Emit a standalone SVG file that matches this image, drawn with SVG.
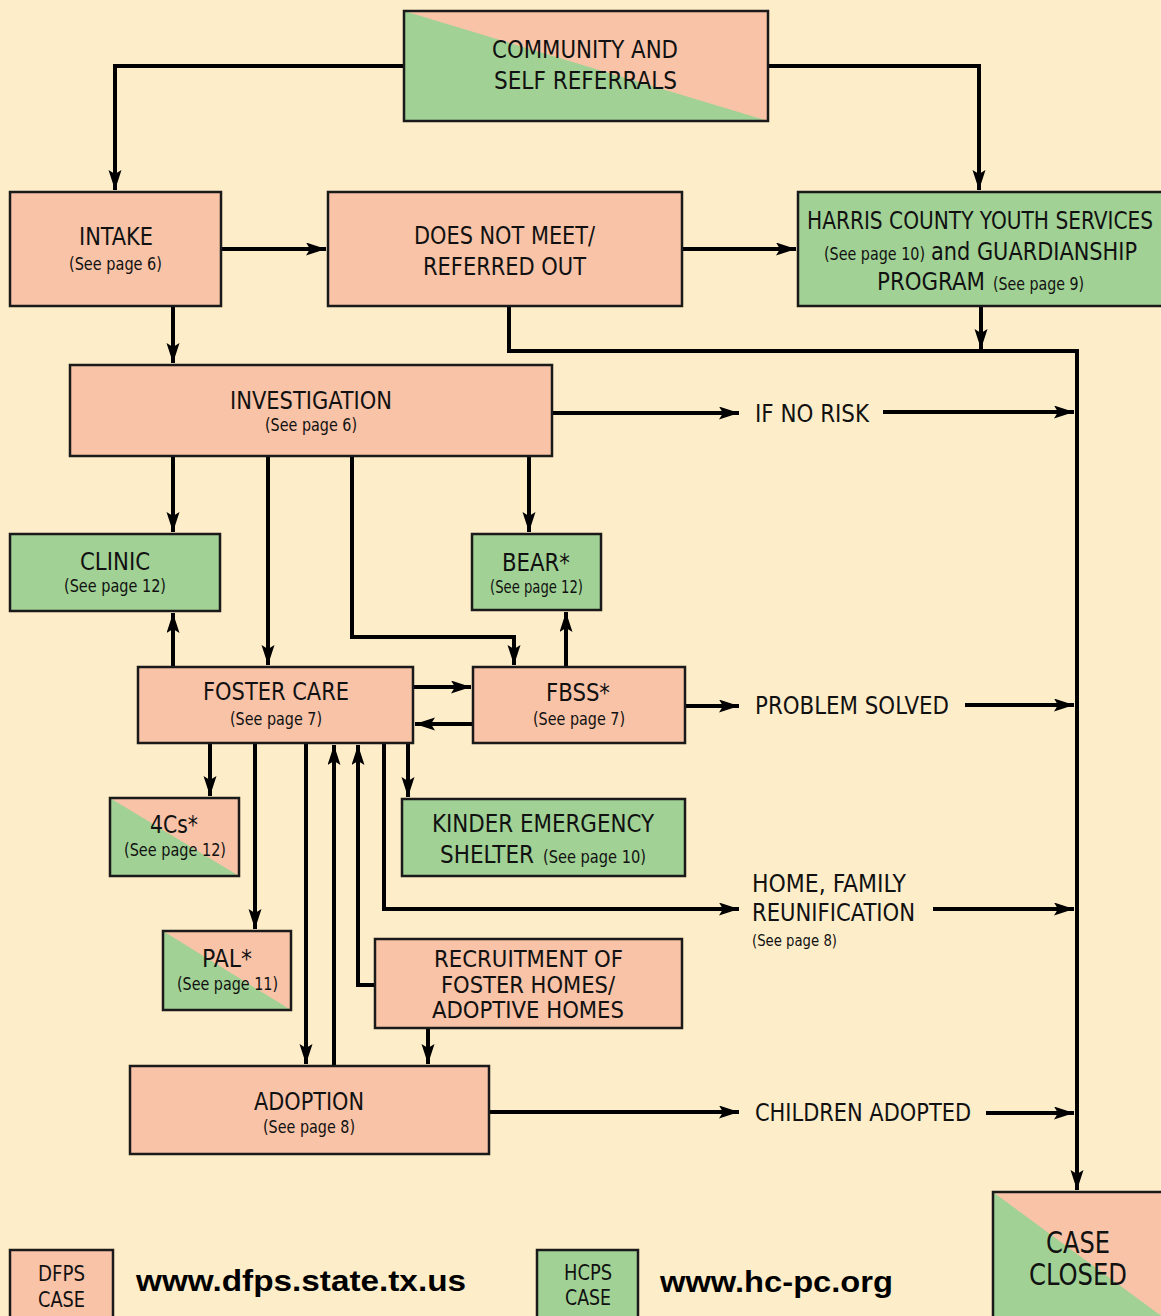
<svg xmlns="http://www.w3.org/2000/svg" width="1161" height="1316" viewBox="0 0 1161 1316">
<defs>
<marker id="ah" markerUnits="userSpaceOnUse" markerWidth="22" markerHeight="14" refX="20" refY="6.5" orient="auto">
<path d="M0,0 L20,6.5 L0,13 L4,6.5 z" fill="#000"/>
</marker>
<style>
.bg{fill:#FEEDC9}
.s{fill:#F8C3A7}
.g{fill:#A1D195}
.b{fill:none;stroke:#1a1a1a;stroke-width:2.5}
.nb{stroke:#1a1a1a;stroke-width:2.5}
text{font-family:"DejaVu Sans Condensed","Liberation Sans",sans-serif;fill:#111;text-anchor:start}
.t{font-size:24px}
.sm{font-size:17px}
.url{font-family:"Liberation Sans","Arial",sans-serif;font-weight:bold;font-size:29px;fill:#000}
.c path,.c line,.c polyline{fill:none;stroke:#000;stroke-width:4;marker-end:url(#ah)}
</style>
</defs>
<rect class="bg" x="0" y="0" width="1161" height="1316"/>

<g id="connectors" class="c">
<polyline points="404,66 115,66 115,190"/>
<polyline points="768,66 979,66 979,190"/>
<line x1="221" y1="249" x2="326" y2="249"/>
<line x1="682" y1="249" x2="796" y2="249"/>
<line x1="173" y1="306" x2="173" y2="363"/>
<line x1="981" y1="306" x2="981" y2="349"/>
<polyline points="509,306 509,351 1077,351 1077,1190"/>
<line x1="552" y1="413" x2="739" y2="413"/>
<line x1="883" y1="412" x2="1074" y2="412"/>
<line x1="173" y1="456" x2="173" y2="532"/>
<line x1="268" y1="456" x2="268" y2="665"/>
<polyline points="352,456 352,637 514,637 514,665"/>
<line x1="529" y1="456" x2="529" y2="532"/>
<line x1="173" y1="667" x2="173" y2="613"/>
<line x1="566" y1="667" x2="566" y2="612"/>
<line x1="413" y1="687" x2="471" y2="687"/>
<line x1="473" y1="724" x2="415" y2="724"/>
<line x1="685" y1="706" x2="739" y2="706"/>
<line x1="965" y1="705" x2="1074" y2="705"/>
<line x1="210" y1="743" x2="210" y2="796"/>
<line x1="255" y1="743" x2="255" y2="929"/>
<line x1="306" y1="743" x2="306" y2="1064"/>
<line x1="334" y1="1066" x2="334" y2="745"/>
<polyline points="375,985 358,985 358,745"/>
<polyline points="384,743 384,909 739,909"/>
<line x1="933" y1="909" x2="1074" y2="909"/>
<line x1="408" y1="743" x2="408" y2="797"/>
<line x1="428" y1="1028" x2="428" y2="1064"/>
<line x1="489" y1="1112" x2="739" y2="1112"/>
<line x1="986" y1="1113" x2="1074" y2="1113"/>
</g>

<g id="community">
<rect class="s" x="404" y="11" width="364" height="110"/>
<polygon class="g" points="404,11 404,121 768,121"/>
<rect class="b" x="404" y="11" width="364" height="110"/>
<text class="t" x="492" y="58" textLength="186" lengthAdjust="spacingAndGlyphs">COMMUNITY AND</text>
<text class="t" x="494" y="89" textLength="183" lengthAdjust="spacingAndGlyphs">SELF REFERRALS</text>
</g>

<g id="intake">
<rect class="s nb" x="10" y="192" width="211" height="114"/>
<text class="t" x="79" y="245" textLength="74" lengthAdjust="spacingAndGlyphs">INTAKE</text>
<text class="sm" x="69" y="270" textLength="93" lengthAdjust="spacingAndGlyphs">(See page 6)</text>
</g>

<g id="doesnotmeet">
<rect class="s nb" x="328" y="192" width="354" height="114"/>
<text class="t" x="414" y="244" textLength="181" lengthAdjust="spacingAndGlyphs">DOES NOT MEET/</text>
<text class="t" x="423" y="275" textLength="163" lengthAdjust="spacingAndGlyphs">REFERRED OUT</text>
</g>

<g id="harris">
<rect class="g nb" x="798" y="192" width="372" height="114"/>
<text class="t" x="807" y="229" textLength="346" lengthAdjust="spacingAndGlyphs">HARRIS COUNTY YOUTH SERVICES</text>
<text class="sm" x="824" y="260" textLength="101" lengthAdjust="spacingAndGlyphs">(See page 10)</text>
<text class="t" x="931" y="260" textLength="206" lengthAdjust="spacingAndGlyphs">and GUARDIANSHIP</text>
<text class="t" x="877" y="290" textLength="108" lengthAdjust="spacingAndGlyphs">PROGRAM</text>
<text class="sm" x="993" y="290" textLength="91" lengthAdjust="spacingAndGlyphs">(See page 9)</text>
</g>

<g id="investigation">
<rect class="s nb" x="70" y="365" width="482" height="91"/>
<text class="t" x="230" y="409" textLength="162" lengthAdjust="spacingAndGlyphs">INVESTIGATION</text>
<text class="sm" x="265" y="431" textLength="92" lengthAdjust="spacingAndGlyphs">(See page 6)</text>
</g>

<g id="ifnorisk">
<text class="t" x="755" y="422" textLength="114" lengthAdjust="spacingAndGlyphs">IF NO RISK</text>
</g>

<g id="clinic">
<rect class="g nb" x="10" y="534" width="210" height="77"/>
<text class="t" x="80" y="570" textLength="70" lengthAdjust="spacingAndGlyphs">CLINIC</text>
<text class="sm" x="64" y="592" textLength="102" lengthAdjust="spacingAndGlyphs">(See page 12)</text>
</g>

<g id="bear">
<rect class="g nb" x="472" y="534" width="129" height="76"/>
<text class="t" x="502" y="571" textLength="68" lengthAdjust="spacingAndGlyphs">BEAR*</text>
<text class="sm" x="490" y="593" textLength="93" lengthAdjust="spacingAndGlyphs">(See page 12)</text>
</g>

<g id="fostercare">
<rect class="s nb" x="138" y="667" width="275" height="76"/>
<text class="t" x="203" y="700" textLength="146" lengthAdjust="spacingAndGlyphs">FOSTER CARE</text>
<text class="sm" x="230" y="725" textLength="92" lengthAdjust="spacingAndGlyphs">(See page 7)</text>
</g>

<g id="fbss">
<rect class="s nb" x="473" y="667" width="212" height="76"/>
<text class="t" x="546" y="701" textLength="64" lengthAdjust="spacingAndGlyphs">FBSS*</text>
<text class="sm" x="533" y="725" textLength="92" lengthAdjust="spacingAndGlyphs">(See page 7)</text>
</g>

<g id="problemsolved">
<text class="t" x="755" y="714" textLength="194" lengthAdjust="spacingAndGlyphs">PROBLEM SOLVED</text>
</g>

<g id="fourcs">
<rect class="s" x="110" y="798" width="129" height="78"/>
<polygon class="g" points="110,798 110,876 239,876"/>
<rect class="b" x="110" y="798" width="129" height="78"/>
<text class="t" x="150" y="833" textLength="48" lengthAdjust="spacingAndGlyphs">4Cs*</text>
<text class="sm" x="124" y="856" textLength="102" lengthAdjust="spacingAndGlyphs">(See page 12)</text>
</g>

<g id="kinder">
<rect class="g nb" x="402" y="799" width="283" height="77"/>
<text class="t" x="432" y="832" textLength="222" lengthAdjust="spacingAndGlyphs">KINDER EMERGENCY</text>
<text class="t" x="440" y="863" textLength="94" lengthAdjust="spacingAndGlyphs">SHELTER</text>
<text class="sm" x="543" y="863" textLength="103" lengthAdjust="spacingAndGlyphs">(See page 10)</text>
</g>

<g id="reunification">
<text class="t" x="752" y="892" textLength="154" lengthAdjust="spacingAndGlyphs">HOME, FAMILY</text>
<text class="t" x="752" y="921" textLength="163" lengthAdjust="spacingAndGlyphs">REUNIFICATION</text>
<text x="752" y="946" style="font-size:15px" textLength="85" lengthAdjust="spacingAndGlyphs">(See page 8)</text>
</g>

<g id="pal">
<rect class="s" x="163" y="931" width="128" height="79"/>
<polygon class="g" points="163,931 163,1010 291,1010"/>
<rect class="b" x="163" y="931" width="128" height="79"/>
<text class="t" x="202" y="967" textLength="50" lengthAdjust="spacingAndGlyphs">PAL*</text>
<text class="sm" x="177" y="990" textLength="101" lengthAdjust="spacingAndGlyphs">(See page 11)</text>
</g>

<g id="recruitment">
<rect class="s nb" x="375" y="939" width="307" height="89"/>
<text class="t" x="434" y="967" style="font-size:23px" textLength="189" lengthAdjust="spacingAndGlyphs">RECRUITMENT OF</text>
<text class="t" x="441" y="993" style="font-size:23px" textLength="174" lengthAdjust="spacingAndGlyphs">FOSTER HOMES/</text>
<text class="t" x="432" y="1018" style="font-size:23px" textLength="192" lengthAdjust="spacingAndGlyphs">ADOPTIVE HOMES</text>
</g>

<g id="adoption">
<rect class="s nb" x="130" y="1066" width="359" height="88"/>
<text class="t" x="254" y="1110" textLength="110" lengthAdjust="spacingAndGlyphs">ADOPTION</text>
<text class="sm" x="263" y="1133" textLength="92" lengthAdjust="spacingAndGlyphs">(See page 8)</text>
</g>

<g id="childrenadopted">
<text class="t" x="755" y="1121" textLength="216" lengthAdjust="spacingAndGlyphs">CHILDREN ADOPTED</text>
</g>

<g id="caseclosed">
<rect class="s" x="993" y="1192" width="180" height="140"/>
<polygon class="g" points="993,1192 993,1332 1183,1332"/>
<rect class="b" x="993" y="1192" width="180" height="140"/>
<text x="1046" y="1253" style="font-size:30px" textLength="64" lengthAdjust="spacingAndGlyphs">CASE</text>
<text x="1029" y="1285" style="font-size:30px" textLength="98" lengthAdjust="spacingAndGlyphs">CLOSED</text>
</g>

<g id="legend-dfps">
<rect class="s nb" x="10" y="1250" width="103" height="80"/>
<text x="38" y="1281" style="font-size:21px" textLength="47" lengthAdjust="spacingAndGlyphs">DFPS</text>
<text x="38" y="1307" style="font-size:21px" textLength="47" lengthAdjust="spacingAndGlyphs">CASE</text>
<text class="url" x="136" y="1291" textLength="330" lengthAdjust="spacingAndGlyphs">www.dfps.state.tx.us</text>
</g>

<g id="legend-hcps">
<rect class="g nb" x="537" y="1250" width="101" height="80"/>
<text x="564" y="1280" style="font-size:21px" textLength="48" lengthAdjust="spacingAndGlyphs">HCPS</text>
<text x="565" y="1305" style="font-size:21px" textLength="46" lengthAdjust="spacingAndGlyphs">CASE</text>
<text class="url" x="660" y="1292" textLength="233" lengthAdjust="spacingAndGlyphs">www.hc-pc.org</text>
</g>
</svg>
